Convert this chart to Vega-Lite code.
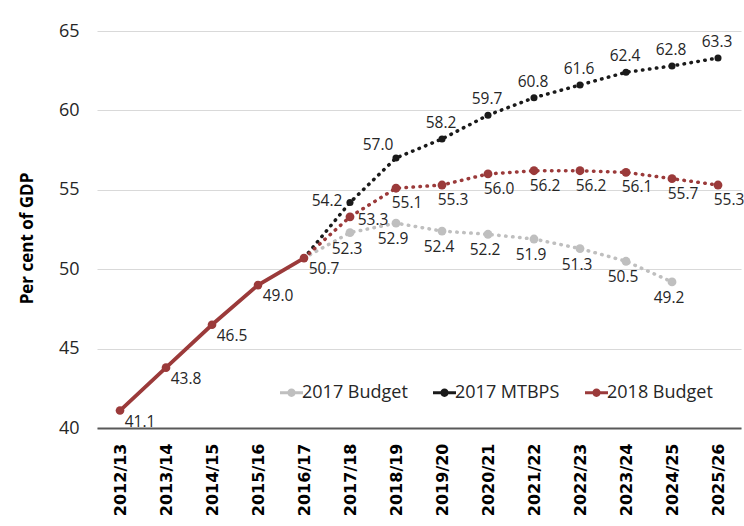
{
  "$schema": "https://vega.github.io/schema/vega-lite/v6.json",
  "autosize": "none",
  "width": 644,
  "height": 397,
  "padding": {"left": 97, "top": 31, "right": 3, "bottom": 98},
  "background": "white",
  "config": {
    "view": {"stroke": null},
    "font": "Open Sans",
    "text": {"font": "Open Sans"}
  },
  "data": {
    "values": [
      {"year": "2012/13", "series": "Actual", "value": 41.1},
      {"year": "2013/14", "series": "Actual", "value": 43.8},
      {"year": "2014/15", "series": "Actual", "value": 46.5},
      {"year": "2015/16", "series": "Actual", "value": 49.0},
      {"year": "2016/17", "series": "Actual", "value": 50.7},
      {"year": "2016/17", "series": "2017 Budget", "value": 50.7},
      {"year": "2017/18", "series": "2017 Budget", "value": 52.3},
      {"year": "2018/19", "series": "2017 Budget", "value": 52.9},
      {"year": "2019/20", "series": "2017 Budget", "value": 52.4},
      {"year": "2020/21", "series": "2017 Budget", "value": 52.2},
      {"year": "2021/22", "series": "2017 Budget", "value": 51.9},
      {"year": "2022/23", "series": "2017 Budget", "value": 51.3},
      {"year": "2023/24", "series": "2017 Budget", "value": 50.5},
      {"year": "2024/25", "series": "2017 Budget", "value": 49.2},
      {"year": "2016/17", "series": "2017 MTBPS", "value": 50.7},
      {"year": "2017/18", "series": "2017 MTBPS", "value": 54.2},
      {"year": "2018/19", "series": "2017 MTBPS", "value": 57.0},
      {"year": "2019/20", "series": "2017 MTBPS", "value": 58.2},
      {"year": "2020/21", "series": "2017 MTBPS", "value": 59.7},
      {"year": "2021/22", "series": "2017 MTBPS", "value": 60.8},
      {"year": "2022/23", "series": "2017 MTBPS", "value": 61.6},
      {"year": "2023/24", "series": "2017 MTBPS", "value": 62.4},
      {"year": "2024/25", "series": "2017 MTBPS", "value": 62.8},
      {"year": "2025/26", "series": "2017 MTBPS", "value": 63.3},
      {"year": "2016/17", "series": "2018 Budget", "value": 50.7},
      {"year": "2017/18", "series": "2018 Budget", "value": 53.3},
      {"year": "2018/19", "series": "2018 Budget", "value": 55.1},
      {"year": "2019/20", "series": "2018 Budget", "value": 55.3},
      {"year": "2020/21", "series": "2018 Budget", "value": 56.0},
      {"year": "2021/22", "series": "2018 Budget", "value": 56.2},
      {"year": "2022/23", "series": "2018 Budget", "value": 56.2},
      {"year": "2023/24", "series": "2018 Budget", "value": 56.1},
      {"year": "2024/25", "series": "2018 Budget", "value": 55.7},
      {"year": "2025/26", "series": "2018 Budget", "value": 55.3}
    ]
  },
  "encoding": {
    "x": {
      "field": "year",
      "type": "ordinal",
      "scale": {"type": "point", "padding": 0.5},
      "axis": {
        "title": null,
        "labelAngle": -90,
        "labelFont": "DejaVu Sans",
        "labelFontWeight": "bold",
        "labelFontSize": 16,
        "labelColor": "#000000",
        "labelPadding": 15,
        "ticks": false,
        "domainColor": "#595959",
        "domainWidth": 2,
        "grid": false
      }
    },
    "y": {
      "field": "value",
      "type": "quantitative",
      "scale": {"domain": [40, 65], "nice": false, "zero": false},
      "axis": {
        "title": "Per cent of GDP",
        "titleFont": "Open Sans",
        "titleFontWeight": "bold",
        "titleFontSize": 17,
        "titleColor": "#000000",
        "titlePadding": 22,
        "titleY": 207,
        "values": [40, 45, 50, 55, 60, 65],
        "labelFont": "Open Sans",
        "labelFontSize": 18,
        "labelColor": "#262626",
        "labelPadding": 18,
        "ticks": false,
        "domain": false,
        "grid": true,
        "gridColor": "#d9d9d9",
        "gridWidth": 1.2
      }
    }
  },
  "layer": [
    {
      "transform": [{"filter": "datum.series !== 'Actual'"}],
      "mark": {"type": "line", "strokeWidth": 3.5, "strokeDash": [0.5, 6.5], "strokeCap": "round"},
      "encoding": {
        "color": {
          "field": "series",
          "type": "nominal",
          "scale": {"domain": ["2017 Budget", "2017 MTBPS", "2018 Budget"], "range": ["#bfbfbf", "#1a1a1a", "#9b3a3a"]},
          "legend": {
            "title": null,
            "orient": "none",
            "direction": "horizontal",
            "legendX": 183,
            "legendY": 350,
            "labelFont": "Open Sans",
            "labelFontSize": 18,
            "labelColor": "#262626",
            "symbolSize": 529,
            "columnPadding": 25,
            "labelOffset": -1,
            "encode": {
              "symbols": {
                "update": {
                  "shape": {"value": "M-1,-0.12L1,-0.12L1,0.12L-1,0.12Z M0.36,0A0.36,0.36,0,1,1,-0.36,0A0.36,0.36,0,1,1,0.36,0Z"},
                  "fill": {"scale": "color", "field": "value"},
                  "fillOpacity": {"value": 1},
                  "stroke": {"value": null},
                  "strokeWidth": {"value": 0},
                  "opacity": {"value": 1}
                }
              }
            }
          }
        },
        "order": {"field": "year"}
      }
    },
    {
      "transform": [{"filter": "(datum.series === '2017 Budget' || datum.series === '2018 Budget') && datum.year !== '2016/17'"}],
      "mark": {"type": "point", "filled": true, "opacity": 1, "size": 78},
      "encoding": {
        "color": {"field": "series", "type": "nominal", "legend": null}
      }
    },
    {
      "transform": [{"filter": "datum.series === '2017 MTBPS' && datum.year !== '2016/17'"}],
      "mark": {"type": "point", "filled": true, "opacity": 1, "size": 50},
      "encoding": {
        "color": {"field": "series", "type": "nominal", "legend": null}
      }
    },
    {
      "transform": [{"filter": "datum.series === 'Actual'"}],
      "mark": {"type": "line", "color": "#9b3a3a", "strokeWidth": 3.8},
      "encoding": {}
    },
    {
      "transform": [{"filter": "datum.series === 'Actual'"}],
      "mark": {"type": "point", "filled": true, "opacity": 1, "color": "#9b3a3a", "size": 75},
      "encoding": {}
    },
    {
      "transform": [{"filter": "datum.series === 'Actual'"}],
      "mark": {"type": "text", "dx": 20, "dy": 11, "fontSize": 15.5, "color": "#262626"},
      "encoding": {"text": {"field": "value", "type": "quantitative", "format": ".1f"}}
    },
    {
      "transform": [{"filter": "datum.series === '2017 Budget' && datum.year !== '2016/17'"}],
      "mark": {"type": "text", "dx": -3, "dy": 16, "fontSize": 15.5, "color": "#262626"},
      "encoding": {"text": {"field": "value", "type": "quantitative", "format": ".1f"}}
    },
    {
      "transform": [{"filter": "datum.series === '2017 MTBPS' && datum.year !== '2016/17' && datum.year !== '2017/18' && datum.year !== '2018/19'"}],
      "mark": {"type": "text", "dx": -1, "dy": -16, "fontSize": 15.5, "color": "#262626"},
      "encoding": {"text": {"field": "value", "type": "quantitative", "format": ".1f"}}
    },
    {
      "transform": [{"filter": "datum.series === '2017 MTBPS' && datum.year === '2018/19'"}],
      "mark": {"type": "text", "dx": -18, "dy": -13, "fontSize": 15.5, "color": "#262626"},
      "encoding": {"text": {"field": "value", "type": "quantitative", "format": ".1f"}}
    },
    {
      "transform": [{"filter": "datum.series === '2017 MTBPS' && datum.year === '2017/18'"}],
      "mark": {"type": "text", "dx": -23, "dy": -2, "fontSize": 15.5, "color": "#262626"},
      "encoding": {"text": {"field": "value", "type": "quantitative", "format": ".1f"}}
    },
    {
      "transform": [{"filter": "datum.series === '2018 Budget' && datum.year !== '2016/17' && datum.year !== '2017/18'"}],
      "mark": {"type": "text", "dx": 11, "dy": 15, "fontSize": 15.5, "color": "#262626"},
      "encoding": {"text": {"field": "value", "type": "quantitative", "format": ".1f"}}
    },
    {
      "transform": [{"filter": "datum.series === '2018 Budget' && datum.year === '2017/18'"}],
      "mark": {"type": "text", "dx": 23, "dy": 3, "fontSize": 15.5, "color": "#262626"},
      "encoding": {"text": {"field": "value", "type": "quantitative", "format": ".1f"}}
    }
  ]
}
